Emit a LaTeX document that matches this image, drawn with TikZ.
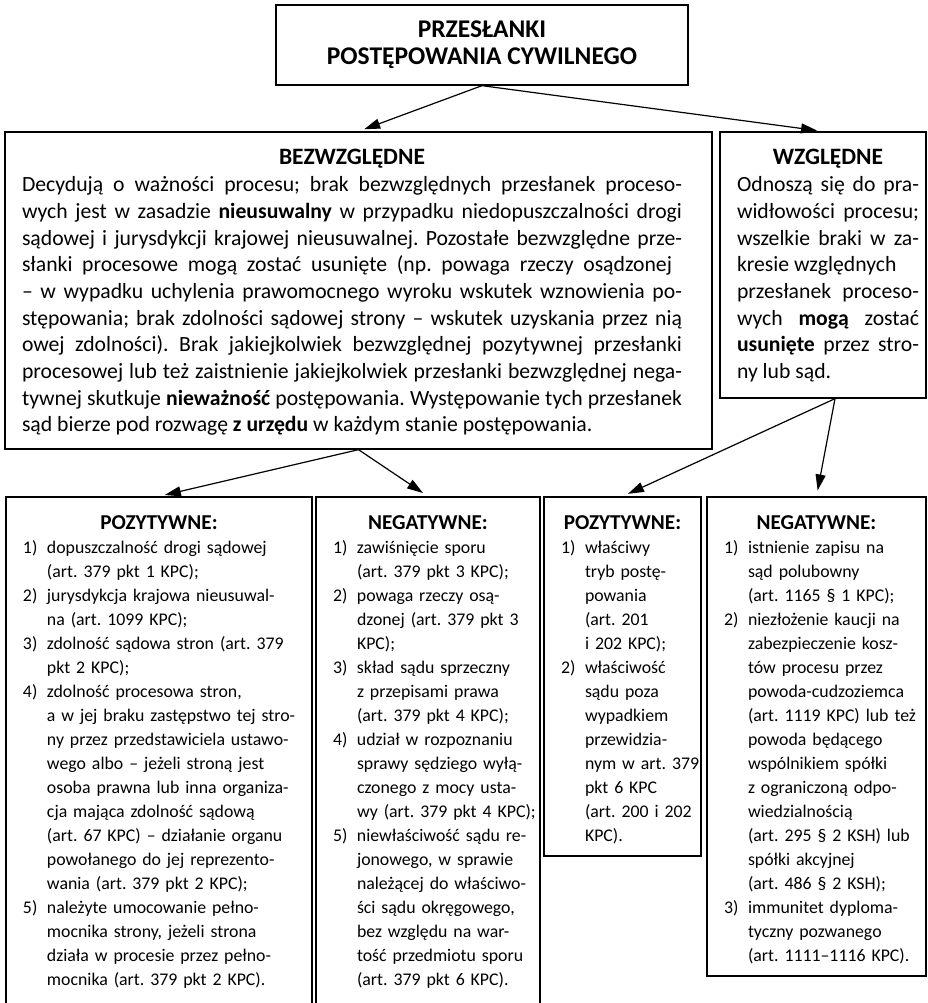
\documentclass[tikz,border=0pt]{standalone}
\usepackage{fontspec}
\setmainfont{Carlito}
\usepackage{array}
\usetikzlibrary{positioning,arrows.meta}
\frenchspacing

\newcommand{\lista}[1]{\begin{tabular}[t]{@{}p{24pt}@{}l@{}}#1\end{tabular}}
\newcommand{\naglowek}[1]{{\centering\fontsize{23.5}{26.7}\selectfont\bfseries #1\par}}
\newcommand{\podnaglowek}[1]{{\centering\fontsize{21.2}{24}\selectfont\bfseries #1\par}\noindent}

\begin{document}
\begin{tikzpicture}[x=1pt, y=-1pt, >={Triangle[length=16pt,width=10pt]},
    ramka/.style={draw, line width=1.3pt, inner sep=0pt},
    tresc/.style={inner sep=0pt, anchor=north, align=justify, font=\fontsize{21.7}{26.7}\selectfont},
    punkty/.style={inner sep=0pt, anchor=north, align=left, font=\fontsize{17.8}{24}\selectfont},
    strzalka/.style={->, line width=1.2pt, shorten >=6pt}]
    \useasboundingbox (0,0) rectangle (928,1003);

    % gorny poziom
    \node [ramka, minimum width=412pt, minimum height=80pt, align=center,
        font=\fontsize{25.5}{27}\selectfont\bfseries] (tytul) at (482,45)
        {PRZESŁANKI\\POSTĘPOWANIA CYWILNEGO};
    \node [ramka, minimum width=707pt, minimum height=317pt] (bez) at (358.5,290.5) {};
    \node [ramka, minimum width=206pt, minimum height=266pt] (wzg) at (823,265) {};

    % dolny poziom
    \node [ramka, minimum width=306pt, minimum height=520pt] (bezPoz) at (159,757) {};
    \node [ramka, minimum width=224pt, minimum height=520pt] (bezNeg) at (428,757) {};
    \node [ramka, minimum width=157pt, minimum height=359pt] (wzgPoz) at (622.5,676.5) {};
    \node [ramka, minimum width=219pt, minimum height=479pt] (wzgNeg) at (816.5,736.5) {};

    \node [tresc, text width=660pt] (bezTxt) at ([xshift=-6.5pt,yshift=-18pt]bez.north)
        {\naglowek{BEZWZGLĘDNE}
        Decydują o ważności procesu; brak bezwzględnych przesłanek proceso-\linebreak
        wych jest w zasadzie \textbf{nieusuwalny} w przypadku niedopuszczalności drogi\linebreak
        sądowej i jurysdykcji krajowej nieusuwalnej. Pozostałe bezwzględne prze-\linebreak
        słanki procesowe mogą zostać usunięte (np. powaga rzeczy osądzonej\hspace*{10pt}\linebreak
        – w wypadku uchylenia prawomocnego wyroku wskutek wznowienia po-\linebreak
        stępowania; brak zdolności sądowej strony – wskutek uzyskania przez nią\linebreak
        owej zdolności). Brak jakiejkolwiek bezwzględnej pozytywnej przesłanki\linebreak
        procesowej lub też zaistnienie jakiejkolwiek przesłanki bezwzględnej nega-\linebreak
        tywnej skutkuje \textbf{nieważność} postępowania. Występowanie tych przesłanek\linebreak
        sąd bierze pod rozwagę \textbf{z urzędu} w każdym stanie postępowania.};
    \node [tresc, text width=182pt] (wzgTxt) at ([xshift=5pt,yshift=-18pt]wzg.north)
        {\naglowek{WZGLĘDNE}
        Odnoszą się do pra-\linebreak
        widłowości procesu;\linebreak
        wszelkie braki w za-\linebreak
        kresie względnych\\
        przesłanek proceso-\linebreak
        wych \textbf{mogą} zostać\linebreak
        \textbf{usunięte} przez stro-\linebreak
        ny lub sąd.};

    \node [punkty, text width=272pt] (bezPozTxt) at ([yshift=-19pt]bezPoz.north)
        {\podnaglowek{POZYTYWNE:}%
        \lista{1) & dopuszczalność drogi sądowej\\
               & (art. 379 pkt 1 KPC);\\
            2) & jurysdykcja krajowa nieusuwal-\\
               & na (art. 1099 KPC);\\
            3) & zdolność sądowa stron (art. 379\\
               & pkt 2 KPC);\\
            4) & zdolność procesowa stron,\\
               & a w jej braku zastępstwo tej stro-\\
               & ny przez przedstawiciela ustawo-\\
               & wego albo – jeżeli stroną jest\\
               & osoba prawna lub inna organiza-\\
               & cja mająca zdolność sądową\\
               & (art. 67 KPC) – działanie organu\\
               & powołanego do jej reprezento-\\
               & wania (art. 379 pkt 2 KPC);\\
            5) & należyte umocowanie pełno-\\
               & mocnika strony, jeżeli strona\\
               & działa w procesie przez pełno-\\
               & mocnika (art. 379 pkt 2 KPC).}};
    \node [punkty, text width=190pt] (bezNegTxt) at ([yshift=-19pt]bezNeg.north)
        {\podnaglowek{NEGATYWNE:}%
        \lista{1) & zawiśnięcie sporu\\
               & (art. 379 pkt 3 KPC);\\
            2) & powaga rzeczy osą-\\
               & dzonej (art. 379 pkt 3\\
               & KPC);\\
            3) & skład sądu sprzeczny\\
               & z przepisami prawa\\
               & (art. 379 pkt 4 KPC);\\
            4) & udział w rozpoznaniu\\
               & sprawy sędziego wyłą-\\
               & czonego z mocy usta-\\
               & wy (art. 379 pkt 4 KPC);\\
            5) & niewłaściwość sądu re-\\
               & jonowego, w sprawie\\
               & należącej do właściwo-\\
               & ści sądu okręgowego,\\
               & bez względu na war-\\
               & tość przedmiotu sporu\\
               & (art. 379 pkt 6 KPC).}};
    \node [punkty, text width=123pt] (wzgPozTxt) at ([yshift=-19pt]wzgPoz.north)
        {\podnaglowek{POZYTYWNE:}%
        \lista{1) & właściwy\\
               & tryb postę-\\
               & powania\\
               & (art. 201\\
               & i 202 KPC);\\
            2) & właściwość\\
               & sądu poza\\
               & wypadkiem\\
               & przewidzia-\\
               & nym w art. 379\\
               & pkt 6 KPC\\
               & (art. 200 i 202\\
               & KPC).}};
    \node [punkty, text width=185pt] (wzgNegTxt) at ([yshift=-19pt]wzgNeg.north)
        {\podnaglowek{NEGATYWNE:}%
        \lista{1) & istnienie zapisu na\\
               & sąd polubowny\\
               & (art. 1165 § 1 KPC);\\
            2) & niezłożenie kaucji na\\
               & zabezpieczenie kosz-\\
               & tów procesu przez\\
               & powoda-cudzoziemca\\
               & (art. 1119 KPC) lub też\\
               & powoda będącego\\
               & wspólnikiem spółki\\
               & z ograniczoną odpo-\\
               & wiedzialnością\\
               & (art. 295 § 2 KSH) lub\\
               & spółki akcyjnej\\
               & (art. 486 § 2 KSH);\\
            3) & immunitet dyploma-\\
               & tyczny pozwanego\\
               & (art. 1111–1116 KPC).}};

    % strzalki
    \draw [strzalka] (tytul.south) -- (bez.north);
    \draw [strzalka] (tytul.south) -- (wzg.north);
    \draw [strzalka] (bez.south) -- (bezPoz.north);
    \draw [strzalka] (bez.south) -- (bezNeg.north);
    \draw [strzalka] ([xshift=12pt]wzg.south) -- (wzgPoz.north);
    \draw [strzalka] ([xshift=12pt]wzg.south) -- (wzgNeg.north);
\end{tikzpicture}
\end{document}
